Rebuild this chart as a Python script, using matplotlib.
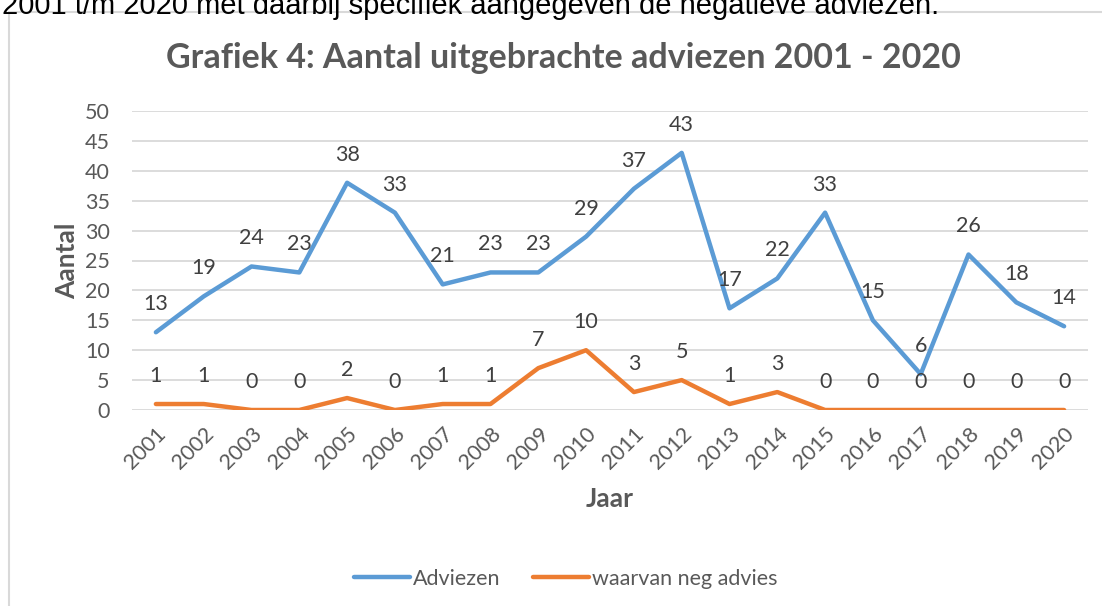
import matplotlib.pyplot as plt
from matplotlib.patches import Rectangle

years = [str(y) for y in range(2001, 2021)]
adviezen = [13, 19, 24, 23, 38, 33, 21, 23, 23, 29, 37, 43, 17, 22, 33, 15, 6, 26, 18, 14]
neg_advies = [1, 1, 0, 0, 2, 0, 1, 1, 7, 10, 3, 5, 1, 3, 0, 0, 0, 0, 0, 0]

BLUE = '#5B9BD5'
ORANGE = '#ED7D31'
TEXT = '#595959'
GRID = '#D9D9D9'

plt.rcParams['font.family'] = ['Lato', 'DejaVu Sans']

W, H = 1102, 606
fig = plt.figure(figsize=(W / 100, H / 100), dpi=100)

# chart border, partly outside the picture
fig.patches.append(Rectangle((9 / W, -0.05), 1.2, 1 - 12.5 / H + 0.05,
                             transform=fig.transFigure, fill=False,
                             edgecolor='#D9D9D9', linewidth=1.5))
# cut-off line of the surrounding document text
fig.text(2 / W, 1 + 8 / H, '2001 t/m 2020 met daarbij specifiek aangegeven de negatieve adviezen.',
         fontsize=21, color='black', family=['Liberation Sans'], va='top', ha='left')

ax = fig.add_axes([132 / W, 1 - 410 / H, (1088 - 132) / W, (410 - 111) / H])
x = range(len(years))
ax.plot(x, adviezen, color=BLUE, linewidth=3.2, solid_capstyle='round', label='Adviezen', zorder=3)
ax.plot(x, neg_advies, color=ORANGE, linewidth=3.2, solid_capstyle='round', label='waarvan neg advies', zorder=3)

for series in (adviezen, neg_advies):
    for i, v in enumerate(series):
        ax.annotate(str(v), (i, v), xytext=(0, 13), textcoords='offset points',
                    ha='center', va='bottom', fontsize=15.5, color='#404040', zorder=4)

ax.set_xlim(-0.5, len(years) - 0.5)
ax.set_ylim(0, 50)
ax.set_yticks(range(0, 51, 5))
ax.set_xticks(list(x))
ax.set_xticklabels(years, rotation=45, ha='right', rotation_mode='anchor')
ax.grid(axis='y', color=GRID, linewidth=1.3)
ax.set_axisbelow(True)
for s in ax.spines.values():
    s.set_visible(False)
ax.tick_params(length=0, labelsize=15.5, labelcolor=TEXT)
ax.tick_params(axis='x', pad=10)
ax.tick_params(axis='y', pad=16)

ax.set_xlabel('Jaar', fontsize=19, fontweight='bold', color=TEXT, labelpad=10)
ax.set_ylabel('Aantal', fontsize=19, fontweight='bold', color=TEXT, labelpad=4)

fig.text(563 / W, 1 - 58 / H, 'Grafiek 4: Aantal uitgebrachte adviezen 2001 - 2020',
         ha='center', va='center', fontsize=24.5, fontweight='bold', color=TEXT)

fig.legend(loc='center', bbox_to_anchor=(566 / W, 1 - 579 / H), ncol=2, frameon=False,
           fontsize=15.5, labelcolor=TEXT, handlelength=2.6, columnspacing=1.5, handletextpad=0.15)

fig.savefig('out.png', dpi=100)
